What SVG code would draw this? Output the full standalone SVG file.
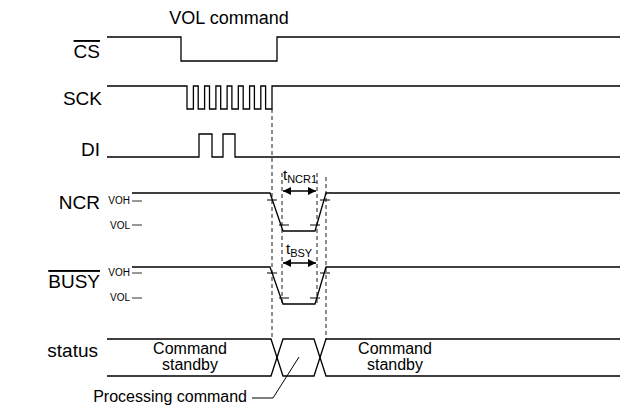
<svg xmlns="http://www.w3.org/2000/svg" width="637" height="411" viewBox="0 0 637 411">
<style>
.sig{fill:none;stroke:#000;stroke-width:1.3}
.dash{fill:none;stroke:#000;stroke-width:0.9;stroke-dasharray:4,3}
.tick{stroke:#555;stroke-width:1.2}
.thin{stroke:#000;stroke-width:1}
.arr{stroke:#000;stroke-width:1.5}
.lbl{font-family:"Liberation Sans",Arial,sans-serif;font-size:19px;fill:#000}
.txt{font-family:"Liberation Sans",Arial,sans-serif;font-size:16px;fill:#000}
.sm{font-family:"Liberation Sans",Arial,sans-serif;font-size:10px;fill:#000}
.t{font-family:"Liberation Sans",Arial,sans-serif;font-size:15px;fill:#000}
.sub{font-size:11px}
</style>
<defs>
<marker id="ah" viewBox="0 0 10 10" refX="10" refY="5" markerWidth="10" markerHeight="8" markerUnits="userSpaceOnUse" orient="auto-start-reverse">
<path d="M0,0 L10,5 L0,10 Z" fill="#000"/>
</marker>
</defs>
<rect width="637" height="411" fill="#fff"/>

<g id="labels">
<text class="lbl" x="100" y="58" text-anchor="end" text-decoration="overline">CS</text>
<text class="lbl" x="102" y="105" text-anchor="end">SCK</text>
<text class="lbl" x="100" y="156" text-anchor="end">DI</text>
<text class="lbl" x="100" y="209" text-anchor="end">NCR</text>
<text class="lbl" x="100" y="288" text-anchor="end" text-decoration="overline">BUSY</text>
<text class="lbl" x="98" y="357" text-anchor="end">status</text>
<text class="txt" x="229" y="24" text-anchor="middle" style="font-size:18px">VOL command</text>
</g>

<g id="levels">
<text class="sm" x="130" y="204" text-anchor="end">VOH</text>
<text class="sm" x="130" y="229" text-anchor="end">VOL</text>
<line class="tick" x1="132" y1="201" x2="142" y2="201"/>
<line class="tick" x1="132" y1="225" x2="142" y2="225"/>
<text class="sm" x="130" y="276" text-anchor="end">VOH</text>
<text class="sm" x="130" y="301" text-anchor="end">VOL</text>
<line class="tick" x1="132" y1="273" x2="142" y2="273"/>
<line class="tick" x1="132" y1="298" x2="142" y2="298"/>
</g>

<g id="cs"><path class="sig" d="M107,37 H181 V61 H277 V37 H620"/></g>
<g id="sck"><path class="sig" d="M107,86 H187 V109 H193.4 V86 H198.2 V109 H204.6 V86 H209.5 V109 H215.9 V86 H220.7 V109 H227.1 V86 H231.9 V109 H238.3 V86 H243.2 V109 H249.6 V86 H254.4 V109 H260.8 V86 H265.6 V109 H272 V86 H620"/></g>
<g id="di"><path class="sig" d="M107,157 H199 V134 H212 V157 H223 V134 H235 V157 H620"/></g>
<g id="ncr">
<path class="sig" d="M132,193 H270 L283,231 H315 L326,193 H620"/>
<line class="thin" x1="267" y1="200" x2="277" y2="200"/>
<line class="thin" x1="279" y1="225" x2="289" y2="225"/>
<line class="thin" x1="310" y1="225" x2="320" y2="225"/>
<line class="thin" x1="320" y1="200" x2="330" y2="200"/>
</g>
<g id="busy">
<path class="sig" d="M132,267 H270 L283,304 H315 L326,267 H620"/>
<line class="thin" x1="267" y1="273" x2="277" y2="273"/>
<line class="thin" x1="279" y1="298" x2="289" y2="298"/>
<line class="thin" x1="310" y1="298" x2="320" y2="298"/>
<line class="thin" x1="320" y1="273" x2="330" y2="273"/>
</g>
<g id="status">
<path class="sig" d="M107,339 H271 L283,376 H314 L326,339 H620"/>
<path class="sig" d="M107,376 H271 L283,339 H314 L326,376 H620"/>
<text class="txt" x="190" y="354" text-anchor="middle">Command</text>
<text class="txt" x="190" y="370" text-anchor="middle">standby</text>
<text class="txt" x="395" y="354" text-anchor="middle">Command</text>
<text class="txt" x="395" y="370" text-anchor="middle">standby</text>
</g>
<g id="processing">
<text class="txt" x="247" y="402" text-anchor="end">Processing command</text>
</g>

<g id="connectors">
<line class="dash" x1="272" y1="109" x2="272" y2="339"/>
<line class="dash" x1="326" y1="177" x2="326" y2="339"/>
<line class="dash" x1="282" y1="173" x2="282" y2="304"/>
<line class="dash" x1="317" y1="173" x2="317" y2="304"/>
<line class="arr" x1="283" y1="191" x2="316" y2="191" marker-start="url(#ah)" marker-end="url(#ah)"/>
<line class="arr" x1="283" y1="263" x2="316" y2="263" marker-start="url(#ah)" marker-end="url(#ah)"/>
<polyline class="thin" fill="none" points="299,357 273,398 252,398"/>
</g>
<g id="timing-labels">
<text class="t" x="283" y="180">t<tspan class="sub" dy="3">NCR1</tspan></text>
<text class="t" x="286" y="254">t<tspan class="sub" dy="3">BSY</tspan></text>
</g>
</svg>
